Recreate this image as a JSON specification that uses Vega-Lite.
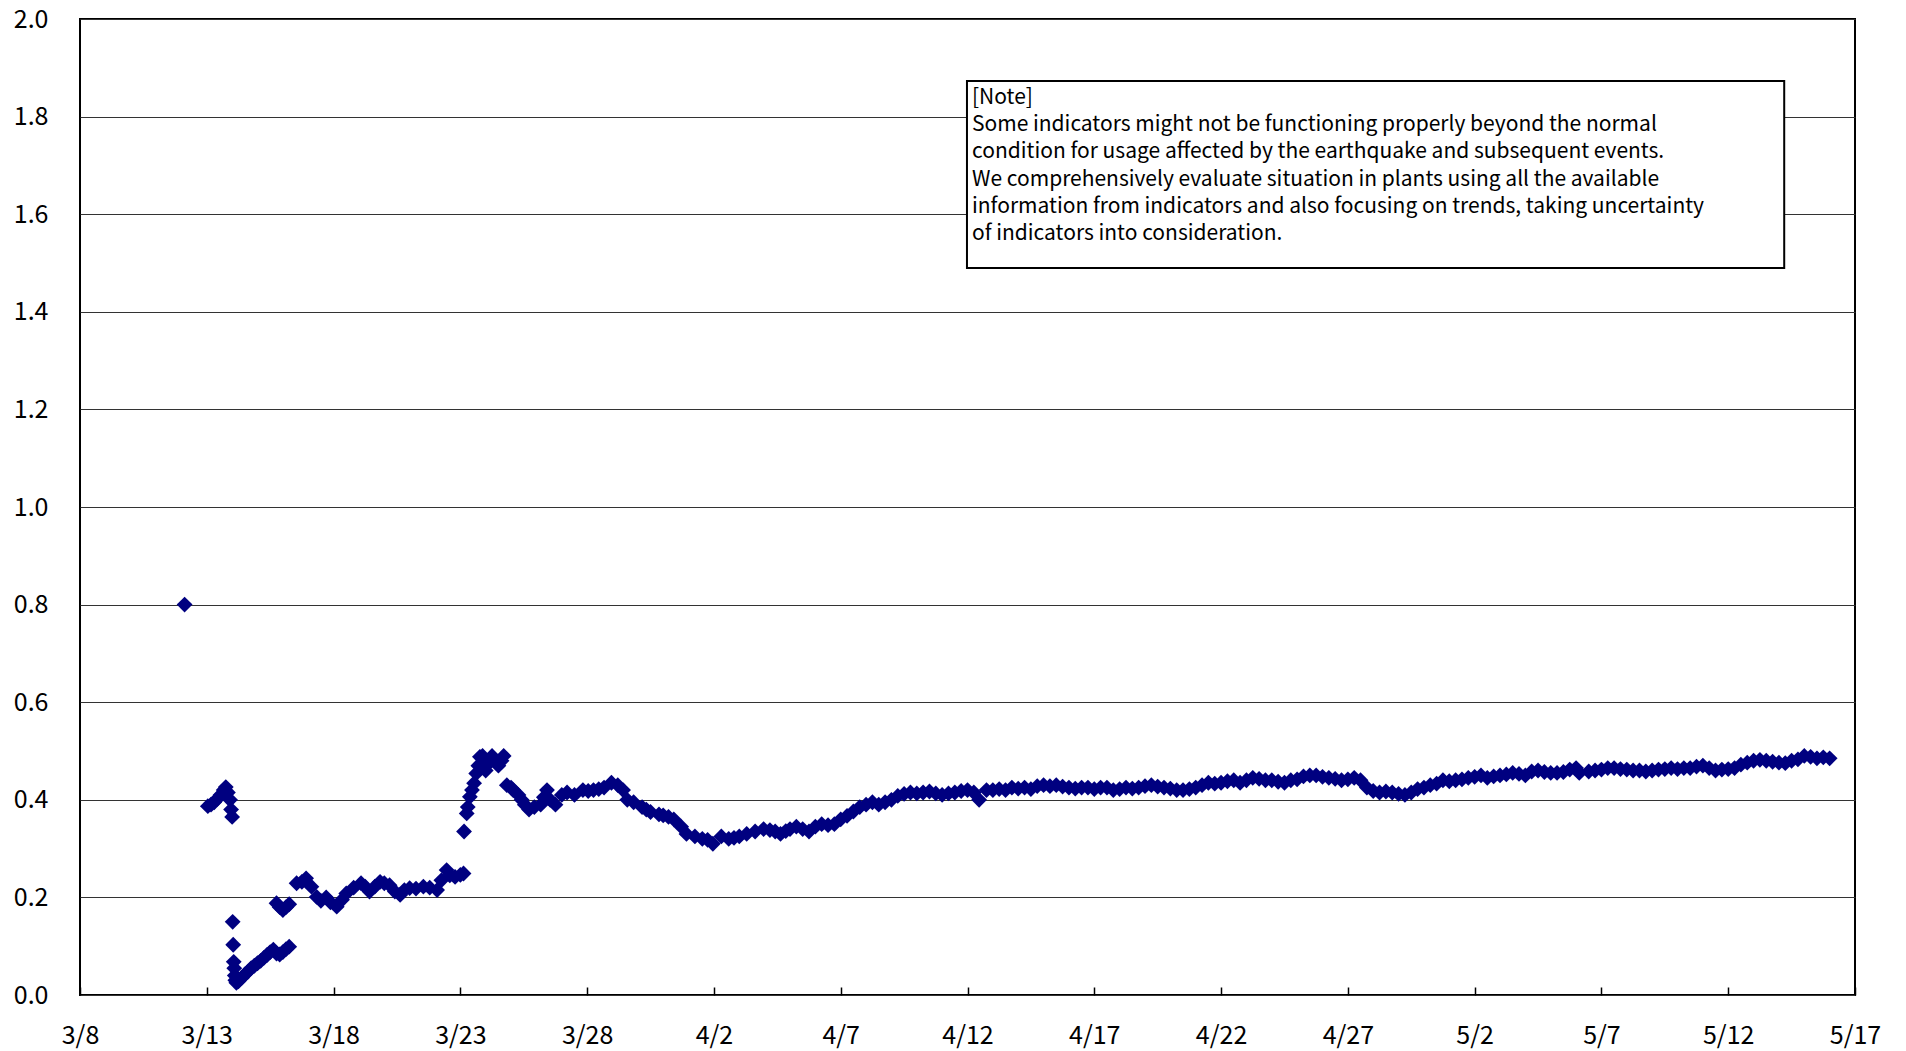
{
  "$schema": "https://vega.github.io/schema/vega-lite/v6.json",
  "width": 1775,
  "height": 976,
  "autosize": {"type": "none"},
  "padding": {"left": 80, "top": 19, "right": 51, "bottom": 56},
  "background": "white",
  "config": {
    "view": {"stroke": "black", "strokeWidth": 2},
    "font": "Noto Sans CJK JP"
  },
  "datasets": {
    "series": [
      {"t": "2011-03-12T03:00", "v": 0.80},
      {"t": "2011-03-13T01:00", "v": 0.387},
      {"t": "2011-03-13T04:00", "v": 0.39},
      {"t": "2011-03-13T07:00", "v": 0.395},
      {"t": "2011-03-13T10:00", "v": 0.402},
      {"t": "2011-03-13T13:00", "v": 0.41},
      {"t": "2011-03-13T16:00", "v": 0.42},
      {"t": "2011-03-13T18:00", "v": 0.426},
      {"t": "2011-03-13T20:00", "v": 0.415},
      {"t": "2011-03-13T22:00", "v": 0.40},
      {"t": "2011-03-13T23:00", "v": 0.38},
      {"t": "2011-03-14T00:00", "v": 0.365},
      {"t": "2011-03-14T00:30", "v": 0.15},
      {"t": "2011-03-14T01:00", "v": 0.103},
      {"t": "2011-03-14T01:30", "v": 0.068},
      {"t": "2011-03-14T02:00", "v": 0.055},
      {"t": "2011-03-14T02:30", "v": 0.04},
      {"t": "2011-03-14T03:00", "v": 0.03},
      {"t": "2011-03-14T04:00", "v": 0.025},
      {"t": "2011-03-14T06:00", "v": 0.028},
      {"t": "2011-03-14T09:00", "v": 0.035},
      {"t": "2011-03-14T12:00", "v": 0.042},
      {"t": "2011-03-14T15:00", "v": 0.048},
      {"t": "2011-03-14T18:00", "v": 0.055},
      {"t": "2011-03-14T21:00", "v": 0.06},
      {"t": "2011-03-15T00:00", "v": 0.065},
      {"t": "2011-03-15T03:00", "v": 0.07},
      {"t": "2011-03-15T06:00", "v": 0.076},
      {"t": "2011-03-15T09:00", "v": 0.082},
      {"t": "2011-03-15T12:00", "v": 0.088},
      {"t": "2011-03-15T15:00", "v": 0.093},
      {"t": "2011-03-15T18:00", "v": 0.085},
      {"t": "2011-03-15T21:00", "v": 0.083},
      {"t": "2011-03-16T00:00", "v": 0.088},
      {"t": "2011-03-16T03:00", "v": 0.094},
      {"t": "2011-03-16T06:00", "v": 0.099},
      {"t": "2011-03-15T18:00", "v": 0.188},
      {"t": "2011-03-15T21:00", "v": 0.18},
      {"t": "2011-03-16T00:00", "v": 0.174},
      {"t": "2011-03-16T03:00", "v": 0.18},
      {"t": "2011-03-16T06:00", "v": 0.186},
      {"t": "2011-03-16T13:00", "v": 0.229},
      {"t": "2011-03-16T18:00", "v": 0.232},
      {"t": "2011-03-16T22:00", "v": 0.239},
      {"t": "2011-03-17T03:00", "v": 0.222},
      {"t": "2011-03-17T08:00", "v": 0.201},
      {"t": "2011-03-17T12:00", "v": 0.193},
      {"t": "2011-03-17T17:00", "v": 0.20},
      {"t": "2011-03-17T21:00", "v": 0.19},
      {"t": "2011-03-18T03:00", "v": 0.181},
      {"t": "2011-03-18T08:00", "v": 0.195},
      {"t": "2011-03-18T12:00", "v": 0.208},
      {"t": "2011-03-18T19:00", "v": 0.22},
      {"t": "2011-03-19T02:00", "v": 0.229},
      {"t": "2011-03-19T06:00", "v": 0.222},
      {"t": "2011-03-19T10:00", "v": 0.212},
      {"t": "2011-03-19T15:00", "v": 0.222},
      {"t": "2011-03-19T20:00", "v": 0.232},
      {"t": "2011-03-20T00:00", "v": 0.229},
      {"t": "2011-03-20T05:00", "v": 0.225},
      {"t": "2011-03-20T10:00", "v": 0.212},
      {"t": "2011-03-20T15:00", "v": 0.205},
      {"t": "2011-03-20T19:00", "v": 0.215},
      {"t": "2011-03-21T00:00", "v": 0.219},
      {"t": "2011-03-21T06:00", "v": 0.218},
      {"t": "2011-03-21T13:00", "v": 0.222},
      {"t": "2011-03-21T19:00", "v": 0.22},
      {"t": "2011-03-22T02:00", "v": 0.215},
      {"t": "2011-03-22T06:00", "v": 0.235},
      {"t": "2011-03-22T11:00", "v": 0.256},
      {"t": "2011-03-22T14:00", "v": 0.245},
      {"t": "2011-03-22T19:00", "v": 0.242},
      {"t": "2011-03-23T00:00", "v": 0.246},
      {"t": "2011-03-23T03:00", "v": 0.249},
      {"t": "2011-03-23T03:30", "v": 0.335},
      {"t": "2011-03-23T06:00", "v": 0.372},
      {"t": "2011-03-23T07:00", "v": 0.385},
      {"t": "2011-03-23T09:00", "v": 0.406},
      {"t": "2011-03-23T11:00", "v": 0.42},
      {"t": "2011-03-23T13:00", "v": 0.434},
      {"t": "2011-03-23T15:00", "v": 0.454},
      {"t": "2011-03-23T17:00", "v": 0.47},
      {"t": "2011-03-23T18:30", "v": 0.488},
      {"t": "2011-03-23T21:00", "v": 0.49},
      {"t": "2011-03-24T00:00", "v": 0.46},
      {"t": "2011-03-24T03:00", "v": 0.475},
      {"t": "2011-03-24T06:00", "v": 0.49},
      {"t": "2011-03-24T09:00", "v": 0.48},
      {"t": "2011-03-24T12:00", "v": 0.47},
      {"t": "2011-03-24T15:00", "v": 0.48},
      {"t": "2011-03-24T17:00", "v": 0.49},
      {"t": "2011-03-24T20:00", "v": 0.43},
      {"t": "2011-03-25T00:00", "v": 0.425},
      {"t": "2011-03-25T02:00", "v": 0.42},
      {"t": "2011-03-25T07:00", "v": 0.41},
      {"t": "2011-03-25T10:00", "v": 0.40},
      {"t": "2011-03-25T13:00", "v": 0.39},
      {"t": "2011-03-25T17:00", "v": 0.38},
      {"t": "2011-03-25T22:00", "v": 0.385},
      {"t": "2011-03-26T04:00", "v": 0.39},
      {"t": "2011-03-26T07:00", "v": 0.405},
      {"t": "2011-03-26T10:00", "v": 0.42},
      {"t": "2011-03-26T13:00", "v": 0.40},
      {"t": "2011-03-26T18:00", "v": 0.39},
      {"t": "2011-03-27T00:00", "v": 0.41},
      {"t": "2011-03-27T05:00", "v": 0.415},
      {"t": "2011-03-27T12:00", "v": 0.41},
      {"t": "2011-03-27T20:00", "v": 0.42},
      {"t": "2011-03-28T01:00", "v": 0.418},
      {"t": "2011-03-28T06:00", "v": 0.42},
      {"t": "2011-03-28T11:00", "v": 0.422},
      {"t": "2011-03-28T16:00", "v": 0.425},
      {"t": "2011-03-28T23:00", "v": 0.435},
      {"t": "2011-03-29T05:00", "v": 0.43},
      {"t": "2011-03-29T10:00", "v": 0.42},
      {"t": "2011-03-29T14:00", "v": 0.40},
      {"t": "2011-03-29T20:00", "v": 0.395},
      {"t": "2011-03-30T04:00", "v": 0.385},
      {"t": "2011-03-30T08:00", "v": 0.38},
      {"t": "2011-03-30T12:00", "v": 0.375},
      {"t": "2011-03-30T20:00", "v": 0.37},
      {"t": "2011-03-31T00:00", "v": 0.368},
      {"t": "2011-03-31T05:00", "v": 0.365},
      {"t": "2011-03-31T10:00", "v": 0.36},
      {"t": "2011-03-31T17:00", "v": 0.345},
      {"t": "2011-03-31T22:00", "v": 0.33},
      {"t": "2011-04-01T06:00", "v": 0.325},
      {"t": "2011-04-01T13:00", "v": 0.32},
      {"t": "2011-04-01T18:00", "v": 0.318},
      {"t": "2011-04-01T23:00", "v": 0.31},
      {"t": "2011-04-02T07:00", "v": 0.325},
      {"t": "2011-04-02T14:00", "v": 0.32},
      {"t": "2011-04-02T19:00", "v": 0.322},
      {"t": "2011-04-03T00:00", "v": 0.325},
      {"t": "2011-04-03T07:00", "v": 0.33},
      {"t": "2011-04-03T15:00", "v": 0.335},
      {"t": "2011-04-03T23:00", "v": 0.34},
      {"t": "2011-04-04T05:00", "v": 0.338},
      {"t": "2011-04-04T10:00", "v": 0.335},
      {"t": "2011-04-04T15:00", "v": 0.33},
      {"t": "2011-04-04T20:00", "v": 0.336},
      {"t": "2011-04-05T00:00", "v": 0.34},
      {"t": "2011-04-05T06:00", "v": 0.345},
      {"t": "2011-04-05T12:00", "v": 0.34},
      {"t": "2011-04-05T18:00", "v": 0.335},
      {"t": "2011-04-06T00:00", "v": 0.345},
      {"t": "2011-04-06T06:00", "v": 0.35},
      {"t": "2011-04-06T12:00", "v": 0.348},
      {"t": "2011-04-06T18:00", "v": 0.35},
      {"t": "2011-04-07T00:00", "v": 0.36},
      {"t": "2011-04-07T06:00", "v": 0.367},
      {"t": "2011-04-07T12:00", "v": 0.376},
      {"t": "2011-04-07T18:00", "v": 0.385},
      {"t": "2011-04-08T00:00", "v": 0.39},
      {"t": "2011-04-08T06:00", "v": 0.395},
      {"t": "2011-04-08T12:00", "v": 0.39},
      {"t": "2011-04-08T18:00", "v": 0.395},
      {"t": "2011-04-09T00:00", "v": 0.40},
      {"t": "2011-04-09T06:00", "v": 0.408},
      {"t": "2011-04-09T12:00", "v": 0.412},
      {"t": "2011-04-09T18:00", "v": 0.415},
      {"t": "2011-04-10T00:00", "v": 0.413},
      {"t": "2011-04-10T06:00", "v": 0.415},
      {"t": "2011-04-10T12:00", "v": 0.417},
      {"t": "2011-04-10T18:00", "v": 0.413},
      {"t": "2011-04-11T00:00", "v": 0.41},
      {"t": "2011-04-11T06:00", "v": 0.413},
      {"t": "2011-04-11T12:00", "v": 0.415},
      {"t": "2011-04-11T18:00", "v": 0.418},
      {"t": "2011-04-12T00:00", "v": 0.42},
      {"t": "2011-04-12T06:00", "v": 0.415},
      {"t": "2011-04-12T11:00", "v": 0.40},
      {"t": "2011-04-12T18:00", "v": 0.42},
      {"t": "2011-04-13T00:00", "v": 0.42},
      {"t": "2011-04-13T06:00", "v": 0.422},
      {"t": "2011-04-13T12:00", "v": 0.42},
      {"t": "2011-04-13T18:00", "v": 0.425},
      {"t": "2011-04-14T00:00", "v": 0.423},
      {"t": "2011-04-14T06:00", "v": 0.425},
      {"t": "2011-04-14T12:00", "v": 0.422},
      {"t": "2011-04-14T18:00", "v": 0.428},
      {"t": "2011-04-15T00:00", "v": 0.43},
      {"t": "2011-04-15T06:00", "v": 0.428},
      {"t": "2011-04-15T12:00", "v": 0.43},
      {"t": "2011-04-15T18:00", "v": 0.427},
      {"t": "2011-04-16T00:00", "v": 0.425},
      {"t": "2011-04-16T06:00", "v": 0.423},
      {"t": "2011-04-16T12:00", "v": 0.425},
      {"t": "2011-04-16T18:00", "v": 0.425},
      {"t": "2011-04-17T00:00", "v": 0.422},
      {"t": "2011-04-17T06:00", "v": 0.425},
      {"t": "2011-04-17T12:00", "v": 0.425},
      {"t": "2011-04-17T18:00", "v": 0.42},
      {"t": "2011-04-18T00:00", "v": 0.422},
      {"t": "2011-04-18T06:00", "v": 0.425},
      {"t": "2011-04-18T12:00", "v": 0.423},
      {"t": "2011-04-18T18:00", "v": 0.425},
      {"t": "2011-04-19T00:00", "v": 0.428},
      {"t": "2011-04-19T06:00", "v": 0.43},
      {"t": "2011-04-19T12:00", "v": 0.427},
      {"t": "2011-04-19T18:00", "v": 0.425},
      {"t": "2011-04-20T00:00", "v": 0.423},
      {"t": "2011-04-20T06:00", "v": 0.42},
      {"t": "2011-04-20T12:00", "v": 0.42},
      {"t": "2011-04-20T18:00", "v": 0.422},
      {"t": "2011-04-21T00:00", "v": 0.425},
      {"t": "2011-04-21T06:00", "v": 0.43},
      {"t": "2011-04-21T12:00", "v": 0.435},
      {"t": "2011-04-21T18:00", "v": 0.433},
      {"t": "2011-04-22T00:00", "v": 0.435},
      {"t": "2011-04-22T06:00", "v": 0.438},
      {"t": "2011-04-22T12:00", "v": 0.44},
      {"t": "2011-04-22T18:00", "v": 0.435},
      {"t": "2011-04-23T00:00", "v": 0.44},
      {"t": "2011-04-23T06:00", "v": 0.445},
      {"t": "2011-04-23T12:00", "v": 0.443},
      {"t": "2011-04-23T18:00", "v": 0.44},
      {"t": "2011-04-24T00:00", "v": 0.44},
      {"t": "2011-04-24T06:00", "v": 0.437},
      {"t": "2011-04-24T12:00", "v": 0.435},
      {"t": "2011-04-24T18:00", "v": 0.44},
      {"t": "2011-04-25T00:00", "v": 0.442},
      {"t": "2011-04-25T06:00", "v": 0.448},
      {"t": "2011-04-25T12:00", "v": 0.45},
      {"t": "2011-04-25T18:00", "v": 0.45},
      {"t": "2011-04-26T00:00", "v": 0.447},
      {"t": "2011-04-26T06:00", "v": 0.445},
      {"t": "2011-04-26T12:00", "v": 0.443},
      {"t": "2011-04-26T18:00", "v": 0.44},
      {"t": "2011-04-27T00:00", "v": 0.442},
      {"t": "2011-04-27T06:00", "v": 0.445},
      {"t": "2011-04-27T12:00", "v": 0.44},
      {"t": "2011-04-27T18:00", "v": 0.425},
      {"t": "2011-04-28T00:00", "v": 0.418},
      {"t": "2011-04-28T06:00", "v": 0.415},
      {"t": "2011-04-28T12:00", "v": 0.417},
      {"t": "2011-04-28T18:00", "v": 0.415},
      {"t": "2011-04-29T00:00", "v": 0.412},
      {"t": "2011-04-29T06:00", "v": 0.41},
      {"t": "2011-04-29T12:00", "v": 0.415},
      {"t": "2011-04-29T18:00", "v": 0.422},
      {"t": "2011-04-30T00:00", "v": 0.425},
      {"t": "2011-04-30T06:00", "v": 0.43},
      {"t": "2011-04-30T12:00", "v": 0.433},
      {"t": "2011-04-30T18:00", "v": 0.44},
      {"t": "2011-05-01T00:00", "v": 0.438},
      {"t": "2011-05-01T06:00", "v": 0.44},
      {"t": "2011-05-01T12:00", "v": 0.442},
      {"t": "2011-05-01T18:00", "v": 0.445},
      {"t": "2011-05-02T00:00", "v": 0.447},
      {"t": "2011-05-02T06:00", "v": 0.45},
      {"t": "2011-05-02T12:00", "v": 0.445},
      {"t": "2011-05-02T18:00", "v": 0.448},
      {"t": "2011-05-03T00:00", "v": 0.45},
      {"t": "2011-05-03T06:00", "v": 0.452},
      {"t": "2011-05-03T12:00", "v": 0.455},
      {"t": "2011-05-03T18:00", "v": 0.453},
      {"t": "2011-05-04T00:00", "v": 0.45},
      {"t": "2011-05-04T06:00", "v": 0.458},
      {"t": "2011-05-04T12:00", "v": 0.46},
      {"t": "2011-05-04T18:00", "v": 0.457},
      {"t": "2011-05-05T00:00", "v": 0.455},
      {"t": "2011-05-05T06:00", "v": 0.455},
      {"t": "2011-05-05T12:00", "v": 0.457},
      {"t": "2011-05-05T18:00", "v": 0.462},
      {"t": "2011-05-06T00:00", "v": 0.465},
      {"t": "2011-05-06T03:00", "v": 0.455},
      {"t": "2011-05-06T12:00", "v": 0.458},
      {"t": "2011-05-06T18:00", "v": 0.46},
      {"t": "2011-05-07T00:00", "v": 0.462},
      {"t": "2011-05-07T06:00", "v": 0.465},
      {"t": "2011-05-07T12:00", "v": 0.465},
      {"t": "2011-05-07T18:00", "v": 0.463},
      {"t": "2011-05-08T00:00", "v": 0.462},
      {"t": "2011-05-08T06:00", "v": 0.46},
      {"t": "2011-05-08T12:00", "v": 0.46},
      {"t": "2011-05-08T18:00", "v": 0.458},
      {"t": "2011-05-09T00:00", "v": 0.46},
      {"t": "2011-05-09T06:00", "v": 0.462},
      {"t": "2011-05-09T12:00", "v": 0.463},
      {"t": "2011-05-09T18:00", "v": 0.465},
      {"t": "2011-05-10T00:00", "v": 0.463},
      {"t": "2011-05-10T06:00", "v": 0.465},
      {"t": "2011-05-10T12:00", "v": 0.465},
      {"t": "2011-05-10T18:00", "v": 0.468},
      {"t": "2011-05-11T00:00", "v": 0.47},
      {"t": "2011-05-11T06:00", "v": 0.465},
      {"t": "2011-05-11T12:00", "v": 0.46},
      {"t": "2011-05-11T18:00", "v": 0.462},
      {"t": "2011-05-12T00:00", "v": 0.463},
      {"t": "2011-05-12T06:00", "v": 0.465},
      {"t": "2011-05-12T12:00", "v": 0.472},
      {"t": "2011-05-12T18:00", "v": 0.476},
      {"t": "2011-05-13T00:00", "v": 0.48},
      {"t": "2011-05-13T06:00", "v": 0.482},
      {"t": "2011-05-13T12:00", "v": 0.48},
      {"t": "2011-05-13T18:00", "v": 0.478},
      {"t": "2011-05-14T00:00", "v": 0.476},
      {"t": "2011-05-14T06:00", "v": 0.475},
      {"t": "2011-05-14T12:00", "v": 0.48},
      {"t": "2011-05-14T18:00", "v": 0.483},
      {"t": "2011-05-15T00:00", "v": 0.49},
      {"t": "2011-05-15T06:00", "v": 0.488},
      {"t": "2011-05-15T12:00", "v": 0.485},
      {"t": "2011-05-15T18:00", "v": 0.487},
      {"t": "2011-05-16T00:00", "v": 0.485}
    ],
    "note": [
      {"x1": "2011-04-11T23:30", "x2": "2011-05-14T05:00", "y1": 1.873, "y2": 1.49,
       "text": "[Note]\nSome indicators might not be functioning properly beyond the normal\ncondition for usage affected by the earthquake and subsequent events.\nWe comprehensively evaluate situation in plants using all the available\ninformation from indicators and also focusing on trends, taking uncertainty\nof indicators into consideration."}
    ]
  },
  "layer": [
    {
      "data": {"name": "series"},
      "mark": {"type": "point", "shape": "diamond", "filled": true, "size": 250, "color": "#000080", "opacity": 1, "strokeWidth": 0},
      "encoding": {
        "x": {
          "field": "t", "type": "temporal",
          "scale": {"domain": [{"year": 2011, "month": 3, "date": 8}, {"year": 2011, "month": 5, "date": 17}]},
          "axis": {
            "title": null,
            "values": [
              {"year": 2011, "month": 3, "date": 8}, {"year": 2011, "month": 3, "date": 13},
              {"year": 2011, "month": 3, "date": 18}, {"year": 2011, "month": 3, "date": 23},
              {"year": 2011, "month": 3, "date": 28}, {"year": 2011, "month": 4, "date": 2},
              {"year": 2011, "month": 4, "date": 7}, {"year": 2011, "month": 4, "date": 12},
              {"year": 2011, "month": 4, "date": 17}, {"year": 2011, "month": 4, "date": 22},
              {"year": 2011, "month": 4, "date": 27}, {"year": 2011, "month": 5, "date": 2},
              {"year": 2011, "month": 5, "date": 7}, {"year": 2011, "month": 5, "date": 12},
              {"year": 2011, "month": 5, "date": 17}
            ],
            "format": "%-m/%-d",
            "grid": false,
            "domain": false,
            "ticks": true,
            "tickSize": -8,
            "tickColor": "black",
            "tickWidth": 1.5,
            "labelPadding": 36,
            "labelFlush": false,
            "labelOverlap": false,
            "labelFont": "Noto Sans CJK JP",
            "labelFontSize": 25,
            "labelColor": "black"
          }
        },
        "y": {
          "field": "v", "type": "quantitative",
          "scale": {"domain": [0, 2], "nice": false, "zero": true},
          "axis": {
            "title": null,
            "values": [0, 0.2, 0.4, 0.6, 0.8, 1.0, 1.2, 1.4, 1.6, 1.8, 2.0],
            "format": ".1f",
            "grid": true,
            "gridColor": "#333333",
            "gridWidth": 1,
            "domain": false,
            "ticks": false,
            "labelPadding": 32,
            "labelFont": "Noto Sans CJK JP",
            "labelFontSize": 25,
            "labelColor": "black",
            "labelOverlap": false
          }
        }
      }
    },
    {
      "data": {"name": "note"},
      "mark": {"type": "rect", "fill": "white", "stroke": "black", "strokeWidth": 2},
      "encoding": {
        "x": {"field": "x1", "type": "temporal"},
        "x2": {"field": "x2"},
        "y": {"field": "y1", "type": "quantitative"},
        "y2": {"field": "y2"}
      }
    },
    {
      "data": {"name": "note"},
      "mark": {"type": "text", "align": "left", "baseline": "top", "lineBreak": "\n", "lineHeight": 27.2, "fontSize": 21, "font": "Noto Sans CJK JP", "color": "black", "dx": 5, "dy": 6},
      "encoding": {
        "x": {"field": "x1", "type": "temporal"},
        "y": {"field": "y1", "type": "quantitative"},
        "text": {"field": "text", "type": "nominal"}
      }
    }
  ]
}
